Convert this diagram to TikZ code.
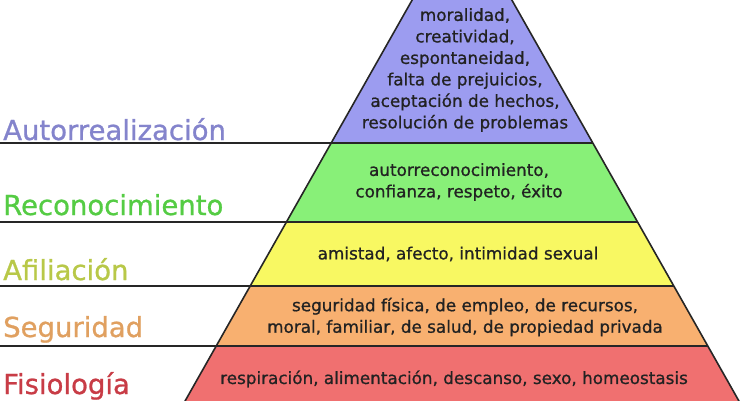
\documentclass[tikz,border=0pt]{standalone}
\usepackage{fontspec}
\setmainfont{DejaVu Sans}
\newfontfamily\semib[FakeBold=0.9]{DejaVu Sans}
\definecolor{fA}{HTML}{9C9CF0}
\definecolor{fB}{HTML}{88F078}
\definecolor{fC}{HTML}{F8F862}
\definecolor{fD}{HTML}{F8B070}
\definecolor{fE}{HTML}{F07070}
\definecolor{lA}{HTML}{8484CC}
\definecolor{lB}{HTML}{55CC44}
\definecolor{lC}{HTML}{B8C848}
\definecolor{lD}{HTML}{E0A060}
\definecolor{lE}{HTML}{C83C46}
\definecolor{ink}{HTML}{222222}
\tikzset{
  edge/.style={line width=1.6pt, black!85},
  bandtext/.style={align=center, text=ink, inner sep=0pt, font=\semib\fontsize{16.8}{21.5}\selectfont},
  levellabel/.style={anchor=base west, inner sep=0pt, font=\semib\fontsize{27.5}{33}\selectfont}
}
\begin{document}
\begin{tikzpicture}[x=1pt,y=-1pt]
\useasboundingbox (0,0) rectangle (750,400);
\clip (0,0) rectangle (750,400);
% corner points
\coordinate (apex) at (462,-88);
\coordinate (l1) at (331.1,143); \coordinate (r1) at (592.9,143);
\coordinate (l2) at (286.3,222); \coordinate (r2) at (637.7,222);
\coordinate (l3) at (250.1,286); \coordinate (r3) at (673.9,286);
\coordinate (l4) at (216.2,346); \coordinate (r4) at (707.8,346);
\coordinate (l5) at (174.3,420); \coordinate (r5) at (749.7,420);
\coordinate (s1) at (0,143); \coordinate (s2) at (0,222);
\coordinate (s3) at (0,286); \coordinate (s4) at (0,346);
% bands
\fill[fA] (apex) -- (r1) -- (l1) -- cycle;
\fill[fB] (l1) -- (r1) -- (r2) -- (l2) -- cycle;
\fill[fC] (l2) -- (r2) -- (r3) -- (l3) -- cycle;
\fill[fD] (l3) -- (r3) -- (r4) -- (l4) -- cycle;
\fill[fE] (l4) -- (r4) -- (r5) -- (l5) -- cycle;
% outlines
\draw[edge] (apex) -- (l5);
\draw[edge] (apex) -- (r5);
\draw[edge] (s1) -- (r1);
\draw[edge] (s2) -- (r2);
\draw[edge] (s3) -- (r3);
\draw[edge] (s4) -- (r4);
% texts in the pyramid
\node[bandtext] (tA) at (465,70) {moralidad,\\creatividad,\\espontaneidad,\\falta de prejuicios,\\aceptación de hechos,\\resolución de problemas};
\node[bandtext] (tB) at (459,182) {autorreconocimiento,\\confianza, respeto, éxito};
\node[bandtext] (tC) at (458,254) {amistad, afecto, intimidad sexual};
\node[bandtext] (tD) at (465,317) {seguridad física, de empleo, de recursos,\\moral, familiar, de salud, de propiedad privada};
\node[bandtext] (tE) at (454,379) {respiración, alimentación, descanso, sexo, homeostasis};
% level labels
\node[levellabel, text=lA] (nA) at (3,140) {Autorrealización};
\node[levellabel, text=lB] (nB) at (3,215) {Reconocimiento};
\node[levellabel, text=lC] (nC) at (3,280) {Afiliación};
\node[levellabel, text=lD] (nD) at (3,337) {Seguridad};
\node[levellabel, text=lE] (nE) at (3,394) {Fisiología};
\end{tikzpicture}
\end{document}
